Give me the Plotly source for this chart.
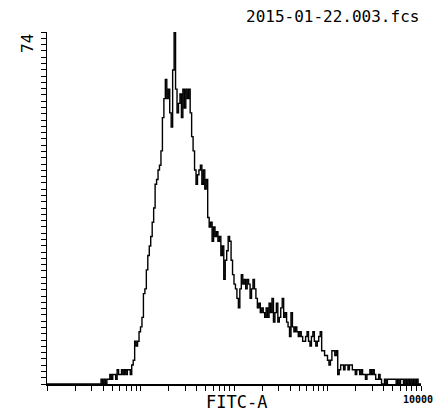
import numpy as np
import plotly.graph_objects as go

# Histogram counts for 256 log-spaced channels over 4 decades (1 .. 10000)
counts = (
    [0] * 37 +
    [1, 0, 1, 0, 1, 1, 2, 1, 2, 2, 1, 3, 2, 2, 3, 2, 3, 2, 3, 3, 2, 4, 5,
     9, 8, 9, 11, 12, 14, 19, 20, 24, 27, 29, 31, 34, 37, 42, 43, 45, 46, 49,
     56, 60, 64, 60, 62, 57, 54, 66, 74, 62, 57, 59, 61, 56, 62, 58, 62, 60,
     62, 57, 52, 49, 45, 42, 44, 45, 46, 42, 45, 41, 43, 35, 33, 34, 30, 33,
     31, 32, 30, 31, 27, 29, 22, 26, 28, 31, 30, 26, 23, 21, 20, 18, 16, 20,
     23, 21, 22, 20, 22, 21, 18, 20, 22, 20, 18, 16, 17, 15, 16, 15, 14, 16,
     14, 17, 15, 18, 13, 15, 17, 13, 14, 16, 18, 14, 15, 13, 12, 10, 15, 12,
     11, 12, 11, 10, 11, 10, 9, 9, 10, 11, 9, 8, 10, 11, 9, 8, 9, 10, 11, 7,
     7, 6, 6, 5, 4, 5, 7, 7, 6, 7, 2, 3, 4, 4, 3, 4, 4, 3, 4, 4, 3, 3, 2, 3,
     3, 2, 3, 2, 2, 1, 2, 2, 3, 2, 3, 2, 1, 1, 2, 1, 0, 0, 1, 0, 1, 1, 1, 1,
     1, 1, 0, 1, 0, 1, 1, 0, 1, 0, 1, 0, 1, 0, 1, 0, 1, 0, 0]
)
n_channels = 256
decades = 4
y_max = 74
title_text = "2015-01-22.003.fcs"
x_label = "FITC-A"
x_end_label = "10000"
y_top_label = "74"

counts = (counts + [0] * n_channels)[:n_channels]
edges = 10 ** (decades * np.arange(n_channels + 1) / n_channels)
xs = list(edges[:-1]) + [edges[-1]]
ys = counts + [counts[-1]]

fig = go.Figure()
fig.add_trace(go.Scatter(
    x=xs, y=ys, mode="lines", line=dict(color="black", width=1.4, shape="hv"),
    hoverinfo="skip", showlegend=False,
))

xticks = [m * 10 ** d for d in range(decades) for m in range(1, 10)] + [10 ** decades]
yticks = [k * y_max / 56 for k in range(57)]

W, H = 436, 413
L, R, T, B = 47, 15, 32, 29
pw = W - L - R
ph = H - T - B

def px(x):
    return (x - L) / pw

def py(y):
    return (H - B - y) / ph

fig.update_layout(
    width=W, height=H,
    margin=dict(l=L, r=R, t=T, b=B),
    paper_bgcolor="white", plot_bgcolor="white",
    showlegend=False,
    hovermode=False,
    xaxis=dict(
        type="log", range=[0, decades], showgrid=False, zeroline=False,
        showline=True, linecolor="black", linewidth=1.5,
        tickmode="array", tickvals=xticks, ticktext=[""] * len(xticks),
        ticks="outside", ticklen=5, tickwidth=1, tickcolor="black",
    ),
    yaxis=dict(
        range=[0, y_max], showgrid=False, zeroline=False,
        showline=True, linecolor="black", linewidth=1.5,
        tickmode="array", tickvals=yticks, ticktext=[""] * len(yticks),
        ticks="outside", ticklen=5, tickwidth=1, tickcolor="black",
    ),
    annotations=[
        dict(text=title_text, x=px(421), y=py(17), xref="paper", yref="paper",
             showarrow=False, xanchor="right", yanchor="middle",
             font=dict(family="DejaVu Sans Mono", size=16, color="black")),
        dict(text=x_label, x=px(236), y=py(402), xref="paper", yref="paper",
             showarrow=False, xanchor="center", yanchor="middle",
             font=dict(family="DejaVu Sans Mono", size=17, color="black")),
        dict(text=x_end_label, x=px(418), y=py(399), xref="paper", yref="paper",
             showarrow=False, xanchor="center", yanchor="middle",
             font=dict(family="DejaVu Sans Mono", size=10, color="black", weight="bold")),
        dict(text=y_top_label, x=px(28), y=py(44), xref="paper", yref="paper",
             showarrow=False, xanchor="center", yanchor="middle",
             textangle=-90,
             font=dict(family="DejaVu Sans Mono", size=16, color="black")),
    ],
)

fig.write_html(
    "out.html",
    config={"displayModeBar": False, "staticPlot": True},
    post_script="document.body.style.margin='0';document.body.style.overflow='hidden';",
)
